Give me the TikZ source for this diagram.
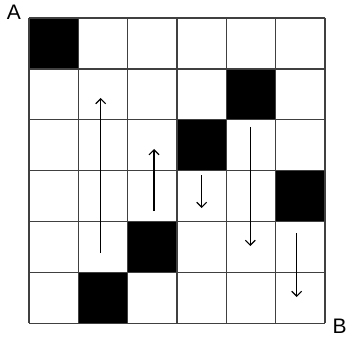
\documentclass[tikz,border=0pt]{standalone}
\usepackage{fontspec}
\setmainfont{Liberation Sans}
\usetikzlibrary{arrows.meta}
\begin{document}
\begin{tikzpicture}[x=1pt,y=-1pt,
  gridline/.style={draw=black!75,line width=1.3pt},
  blk/.style={fill=black},
  mv/.style={-{Straight Barb[length=5pt,width=10pt]},line width=1.1pt},
  lbl/.style={inner sep=0pt,font=\fontsize{21}{25}\selectfont}]
\useasboundingbox (0,0) rectangle (348,342);
\begin{scope}[shift={(29,18)},x=49.333pt,y=-50.883pt]
  \foreach \c/\r in {0/0,4/1,3/2,5/3,2/4,1/5}
    \fill[blk] (\c,\r) rectangle (\c+1,\r+1);
  \foreach \i in {0,...,6} {
    \draw[gridline] (\i,0) -- (\i,6);
    \draw[gridline] (0,\i) -- (6,\i);
  }
\end{scope}
\node[lbl] (A) at (14,12.5) {A};
\node[lbl] (B) at (339.5,326) {B};
\coordinate (s1) at (100.7,253); \coordinate (e1) at (100.7,98);
\coordinate (s2) at (154,211);   \coordinate (e2) at (154,149);
\coordinate (s3) at (201.7,175); \coordinate (e3) at (201.7,208);
\coordinate (s4) at (250.3,127); \coordinate (e4) at (250.3,246);
\coordinate (s5) at (296.7,233); \coordinate (e5) at (296.7,297);
\draw[mv] (s1) -- (e1);
\draw[mv] (s2) -- (e2);
\draw[mv] (s3) -- (e3);
\draw[mv] (s4) -- (e4);
\draw[mv] (s5) -- (e5);
\end{tikzpicture}
\end{document}
